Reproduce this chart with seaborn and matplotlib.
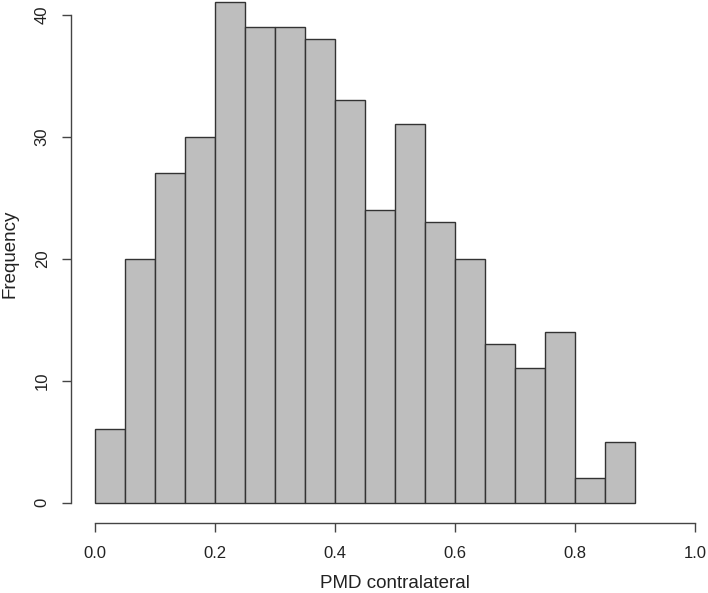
import matplotlib
matplotlib.use('Agg')
import matplotlib.pyplot as plt
import seaborn as sns

# Histogram of PMD contralateral (bins of width 0.05)
bin_edges = [0.0, 0.05, 0.1, 0.15, 0.2, 0.25, 0.3, 0.35, 0.4, 0.45,
             0.5, 0.55, 0.6, 0.65, 0.7, 0.75, 0.8, 0.85, 0.9]
counts = [6, 20, 27, 30, 41, 39, 39, 38, 33, 24, 31, 23, 20, 13, 11, 14, 2, 5]
x_ticks = [0.0, 0.2, 0.4, 0.6, 0.8, 1.0]
x_tick_labels = ['0.0', '0.2', '0.4', '0.6', '0.8', '1.0']
y_ticks = [0, 10, 20, 30, 40]

sns.set_style('ticks')
plt.rcParams['font.family'] = ['Liberation Sans', 'DejaVu Sans']

mids = [(a + b) / 2 for a, b in zip(bin_edges[:-1], bin_edges[1:])]

fig = plt.figure(figsize=(7.08, 5.93), dpi=100)
ax = fig.add_axes([71.3 / 708, 1 - 522.7 / 593, 1 - 71.3 / 708, 522.7 / 593])

# R-style grey histogram
sns.histplot(x=mids, weights=counts, bins=bin_edges, ax=ax,
             color='#BEBEBE', edgecolor='#333333', linewidth=1.0, alpha=1)

xlim = (-0.04, 1.0212)
ax.set_xlim(xlim)
ax.set_ylim(-1.64, 41.2)

# detached axes like base R
for s in ['top', 'right']:
    ax.spines[s].set_visible(False)
ax.spines['left'].set_bounds(0, 40)
ax.spines['bottom'].set_bounds(0, 1)
for s in ['left', 'bottom']:
    ax.spines[s].set_color('#444444')
    ax.spines[s].set_linewidth(1.0)

ax.set_xticks(x_ticks)
ax.set_xticklabels(x_tick_labels)
ax.set_yticks(y_ticks)
ax.set_yticklabels([str(v) for v in y_ticks], rotation=90, va='center')
ax.tick_params(axis='both', length=6.5, width=1.0, color='#444444',
               labelsize=12, labelcolor='#222222')
ax.tick_params(axis='x', pad=10)
ax.tick_params(axis='y', pad=9)

ax.set_xlabel('PMD contralateral', fontsize=13.5, color='#222222', va='center')
ax.set_ylabel('Frequency', fontsize=13.5, color='#222222', va='center')
# x label centred on the 0.5 data position
ax.xaxis.set_label_coords((0.5 - xlim[0]) / (xlim[1] - xlim[0]), -0.1154)
ax.yaxis.set_label_coords(-0.0963, 0.514)

fig.savefig('out.png', dpi=100)
